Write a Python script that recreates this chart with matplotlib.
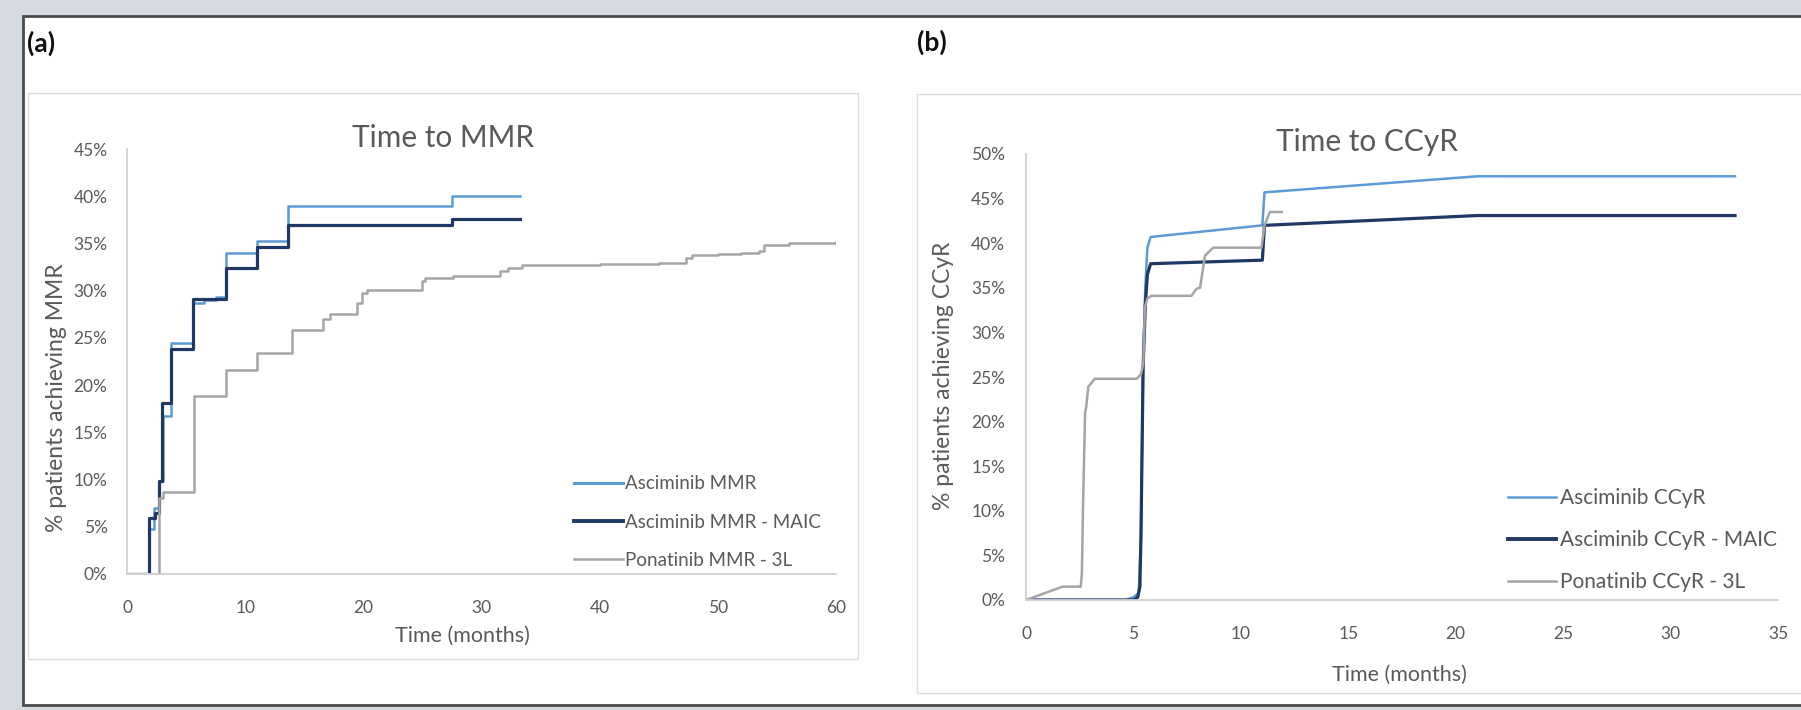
import matplotlib
matplotlib.use("Agg")
import matplotlib.pyplot as plt
from matplotlib.patches import Rectangle
from matplotlib.lines import Line2D
from matplotlib.ticker import FuncFormatter

plt.rcParams['font.family'] = ['Lato', 'DejaVu Sans']

# ---- panel (a): time to MMR (Kaplan-Meier style steps) ----
asc_mmr_t = [0, 1.89, 2.3, 2.74, 3.07, 3.7, 5.6, 6.5, 7.5, 8.38, 11.03, 13.65, 27.5, 33.26]
asc_mmr_y = [0, 4.8, 7.0, 9.8, 16.7, 24.5, 28.7, 29.0, 29.3, 34.0, 35.3, 39.0, 40.0, 40.0]

maic_mmr_t = [0, 1.89, 2.4, 2.74, 2.93, 3.7, 5.56, 8.38, 11.03, 13.65, 27.5, 33.26]
maic_mmr_y = [0, 5.9, 6.5, 9.8, 18.1, 23.8, 29.1, 32.4, 34.6, 37.0, 37.6, 37.6]

pon_mmr_t = [0, 2.74, 3.07, 5.67, 8.38, 11.03, 13.94, 16.56, 17.18, 19.44, 19.86, 20.28,
             24.94, 25.2, 27.6, 31.57, 32.27, 33.4, 40.0, 45.0, 47.3, 47.8, 50.0, 52.0,
             53.5, 53.9, 56.0, 58.0, 60.0]
pon_mmr_y = [0, 8.0, 8.7, 18.8, 21.6, 23.4, 25.8, 27.0, 27.5, 28.7, 29.8, 30.1,
             31.0, 31.3, 31.6, 32.1, 32.4, 32.7, 32.8, 32.9, 33.5, 33.8, 33.9, 34.0,
             34.2, 34.8, 35.0, 35.1, 35.2]

# ---- panel (b): time to CCyR (points joined by straight lines) ----
asc_ccyr_t = [0, 4.6, 5.0, 5.25, 5.35, 5.45, 5.55, 5.65, 5.8, 11.0, 11.1, 21.0, 33.0]
asc_ccyr_y = [0, 0, 0.3, 0.8, 7.0, 26.0, 35.0, 39.5, 40.7, 42.0, 45.7, 47.5, 47.5]

maic_ccyr_t = [0, 5.0, 5.2, 5.3, 5.35, 5.45, 5.55, 5.65, 5.8, 11.0, 11.1, 21.0, 33.0]
maic_ccyr_y = [0, 0, 0.3, 1.5, 7.0, 26.0, 33.0, 36.5, 37.7, 38.1, 42.0, 43.1, 43.1]

pon_ccyr_t = [0, 1.7, 2.55, 2.6, 2.65, 2.75, 2.8, 2.9, 3.2, 5.15, 5.35, 5.46, 5.53, 5.65,
              5.84, 7.7, 7.94, 8.1, 8.33, 8.71, 10.96, 11.1, 11.35, 11.9]
pon_ccyr_y = [0, 1.5, 1.5, 3.0, 10.0, 21.0, 21.6, 23.9, 24.8, 24.8, 25.3, 26.5, 32.8, 33.8,
              34.1, 34.1, 34.9, 35.0, 38.6, 39.5, 39.5, 42.0, 43.5, 43.5]

labels_a = ['Asciminib MMR', 'Asciminib MMR - MAIC', 'Ponatinib MMR - 3L']
labels_b = ['Asciminib CCyR', 'Asciminib CCyR - MAIC', 'Ponatinib CCyR - 3L']

LIGHT = '#5b9bd5'
DARK = '#1f3864'
GRAY = '#a5a5a5'
TXT = '#595959'
AXC = '#d0d0d0'

W, H = 1801, 710
fig = plt.figure(figsize=(W / 100, H / 100), dpi=100)
fig.patch.set_facecolor('#d4dadf')


def fx(px):
    return px / W


def fy(py):
    return 1 - py / H


# outer white box and the two light chart areas
fig.patches.append(Rectangle((fx(23), fy(705)), fx(1830 - 23), fy(16) - fy(705),
                             transform=fig.transFigure, facecolor='white',
                             edgecolor='#4a4a4a', lw=2, zorder=-10))
fig.patches.append(Rectangle((fx(28), fy(659)), fx(858 - 28), fy(93) - fy(659),
                             transform=fig.transFigure, facecolor='white',
                             edgecolor='#dcdcdc', lw=1, zorder=-9))
fig.patches.append(Rectangle((fx(917), fy(693)), fx(1830 - 917), fy(94) - fy(693),
                             transform=fig.transFigure, facecolor='white',
                             edgecolor='#dcdcdc', lw=1, zorder=-9))

fig.text(fx(41), fy(43), '(a)', fontsize=19, fontweight='bold', color='#111111',
         ha='center', va='center')
fig.text(fx(932), fy(42), '(b)', fontsize=19, fontweight='bold', color='#111111',
         ha='center', va='center')

pct = FuncFormatter(lambda v, p: f'{v:.0f}%')


def style(ax, xpad, ypad):
    for s in ['top', 'right']:
        ax.spines[s].set_visible(False)
    for s in ['left', 'bottom']:
        ax.spines[s].set_color(AXC)
        ax.spines[s].set_linewidth(1.3)
    ax.tick_params(length=0, labelsize=12.5, labelcolor=TXT)
    ax.tick_params(axis='x', pad=xpad)
    ax.tick_params(axis='y', pad=ypad)
    ax.yaxis.set_major_formatter(pct)
    ax.patch.set_alpha(0)


# ---- (a) ----
ax1 = fig.add_axes([fx(127), fy(574), fx(836 - 127), fy(149) - fy(574)])
ax1.plot(asc_mmr_t, asc_mmr_y, drawstyle='steps-post', color=LIGHT, lw=1.8)
ax1.plot(maic_mmr_t, maic_mmr_y, drawstyle='steps-post', color=DARK, lw=2.3)
ax1.plot(pon_mmr_t, pon_mmr_y, drawstyle='steps-post', color=GRAY, lw=1.8)
ax1.set_xlim(0, 60)
ax1.set_ylim(0, 45)
ax1.set_xticks(range(0, 61, 10))
ax1.set_yticks(range(0, 46, 5))
style(ax1, 19, 14)
ax1.text(0.4457, 1.026, 'Time to MMR', transform=ax1.transAxes, fontsize=21.5,
         color=TXT, ha='center', va='center')
ax1.text(0.4725, -0.146, 'Time (months)', transform=ax1.transAxes, fontsize=15.5,
         color=TXT, ha='center', va='center')
ax1.text(-0.100, 0.414, '% patients achieving MMR', transform=ax1.transAxes,
         fontsize=16.5, color=TXT, ha='center', va='center', rotation=90)

handles_a = [Line2D([], [], color=LIGHT, lw=2.2), Line2D([], [], color=DARK, lw=2.8),
             Line2D([], [], color=GRAY, lw=1.8)]
ax1.legend(handles_a, labels_a, loc='center left', bbox_to_anchor=(fx(574), fy(522)),
           bbox_transform=fig.transFigure, frameon=False, fontsize=13.5,
           labelcolor=TXT, handlelength=2.6, handletextpad=0.1, labelspacing=1.14,
           borderpad=0, borderaxespad=0)

# ---- (b) ----
ax2 = fig.add_axes([fx(1026), fy(600), fx(1778 - 1026), fy(154) - fy(600)])
ax2.plot(asc_ccyr_t, asc_ccyr_y, color=LIGHT, lw=1.8)
ax2.plot(maic_ccyr_t, maic_ccyr_y, color=DARK, lw=2.3)
ax2.plot(pon_ccyr_t, pon_ccyr_y, color=GRAY, lw=1.8)
ax2.set_xlim(0, 35)
ax2.set_ylim(0, 50)
ax2.set_xticks(range(0, 36, 5))
ax2.set_yticks(range(0, 51, 5))
style(ax2, 19, 15)
ax2.text(0.4535, 1.027, 'Time to CCyR', transform=ax2.transAxes, fontsize=21.5,
         color=TXT, ha='center', va='center')
ax2.text(0.497, -0.168, 'Time (months)', transform=ax2.transAxes, fontsize=15.5,
         color=TXT, ha='center', va='center')
ax2.text(-0.110, 0.502, '% patients achieving CCyR', transform=ax2.transAxes,
         fontsize=16.5, color=TXT, ha='center', va='center', rotation=90)

handles_b = [Line2D([], [], color=LIGHT, lw=1.8), Line2D([], [], color=DARK, lw=2.8),
             Line2D([], [], color=GRAY, lw=1.8)]
ax2.legend(handles_b, labels_b, loc='center left', bbox_to_anchor=(fx(1508), fy(540)),
           bbox_transform=fig.transFigure, frameon=False, fontsize=15,
           labelcolor=TXT, handlelength=2.3, handletextpad=0.2, labelspacing=1.06,
           borderpad=0, borderaxespad=0)

fig.savefig('out.png', dpi=100, facecolor=fig.get_facecolor())
